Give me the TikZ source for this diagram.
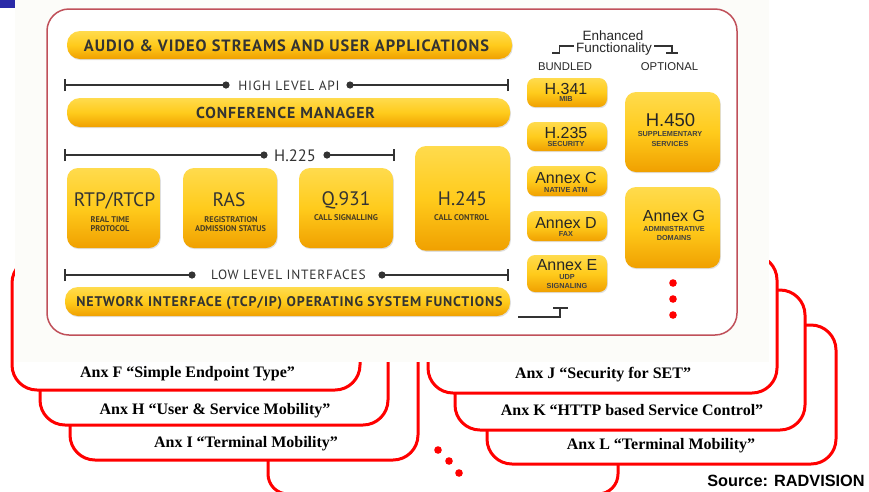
\documentclass[tikz,border=0pt]{standalone}
\usepackage{fontspec}
\setmainfont{Liberation Serif}
\newfontfamily\dsans{PT Sans}
\newfontfamily\dwide[LetterSpace=6]{PT Sans}
\newfontfamily\asans{Liberation Sans}
\usetikzlibrary{shadows}
\definecolor{ytop}{HTML}{FFDB4D}
\definecolor{ymid}{HTML}{FFCB1C}
\definecolor{ybot}{HTML}{F0A000}
\definecolor{txt}{HTML}{333333}
\definecolor{subtxt}{HTML}{4A3F22}
\definecolor{framec}{HTML}{C0505A}
\definecolor{coverc}{HTML}{FCFCF9}
\definecolor{navyc}{HTML}{2A2AA8}
\definecolor{cardred}{HTML}{FF0000}
\begin{document}
\begin{tikzpicture}[x=1pt,y=-1pt,
  card/.style={draw=cardred, line width=3pt, fill=white, rounded corners=25pt},
  cardlbl/.style={anchor=base, inner sep=0pt, font=\bfseries\fontsize{16}{18}\selectfont},
  ybox/.style={rounded corners=11pt, top color=ytop, bottom color=ybot, middle color=ymid,
     drop shadow={opacity=0.25, shadow xshift=0.8pt, shadow yshift=-1.2pt}},
  ybar/.style={ybox, rounded corners=13pt},
  bartxt/.style={anchor=base, inner sep=0pt, text=txt, font=\dwide\bfseries\fontsize{14.5}{16}\selectfont},
  apitxt/.style={anchor=base, inner sep=0pt, text=txt, font=\dwide\fontsize{13.4}{15}\selectfont},
  bigt/.style={anchor=base, inner sep=0pt, text=txt, font=\dsans\fontsize{19.5}{21}\selectfont},
  smallt/.style={anchor=base, inner sep=0pt, text=subtxt, font=\dsans\bfseries\fontsize{8.3}{9}\selectfont},
  rbig/.style={anchor=base, inner sep=0pt, text=black!85, font=\asans\fontsize{16}{18}\selectfont},
  rsmall/.style={anchor=base, inner sep=0pt, text=black!75, font=\asans\bfseries\fontsize{7.3}{8}\selectfont},
  rhead/.style={anchor=base, inner sep=0pt, text=black!85, font=\asans\fontsize{13.5}{15}\selectfont},
  rcol/.style={anchor=base, inner sep=0pt, text=black!85, font=\asans\fontsize{11.3}{13}\selectfont},
  rule/.style={draw=txt, line width=1.3pt},
  reddot/.style={fill=cardred}
]
\useasboundingbox (0,0) rectangle (869,491);
\begin{scope}
\clip (0,0) rectangle (869,491);
% ---------- stacked cards (back to front) ----------
\draw[card, rounded corners=20pt] (268,360) rectangle (618,494);
\draw[card] (487,325) rectangle (836,464);
\draw[card] (455,290) rectangle (805,430);
\draw[card] (428,255) rectangle (777,393);
\draw[card] (70,325) rectangle (418,460);
\draw[card] (40,290) rectangle (388,425);
\draw[card] (12,258) rectangle (360,390);
\node[cardlbl] (lblF) at (187.5,377) {Anx F “Simple Endpoint Type”};
\node[cardlbl] (lblH) at (215,414) {Anx H “User \& Service Mobility”};
\node[cardlbl] (lblI) at (246,447) {Anx I “Terminal Mobility”};
\node[cardlbl] (lblJ) at (603,378) {Anx J “Security for SET”};
\node[cardlbl] (lblK) at (632,415) {Anx K “HTTP based Service Control”};
\node[cardlbl] (lblL) at (661,449) {Anx L “Terminal Mobility”};
% ellipsis dots
\fill[reddot] (438,450) circle (3.8);
\fill[reddot] (449,461) circle (3.8);
\fill[reddot] (459,473) circle (3.8);
% ---------- screenshot cover ----------
\fill[coverc] (15,0) rectangle (769,362);
\fill[navyc] (0,0) rectangle (15,8);
% main frame
\draw[draw=framec, line width=1.5pt, rounded corners=22pt, fill=white] (47,9) rectangle (737,335);
% ---------- bars ----------
\path[ybar] (67,31) rectangle (512,59);
\node[bartxt, font=\dwide\bfseries\fontsize{16.4}{18}\selectfont] (audio) at (286.5,51.7) {AUDIO \& VIDEO STREAMS AND USER APPLICATIONS};
\path[ybar] (67,98) rectangle (510,127);
\node[bartxt, font=\dwide\bfseries\fontsize{15.8}{18}\selectfont] (conf) at (285.5,118.3) {CONFERENCE MANAGER};
\path[ybar] (65,287) rectangle (510,316);
\node[bartxt, font=\dwide\bfseries\fontsize{14}{16}\selectfont] (net) at (289.5,306.7) {NETWORK INTERFACE (TCP/IP) OPERATING SYSTEM FUNCTIONS};
% ---------- API rules ----------
\node[apitxt] (hl) at (289,90.7) {HIGH LEVEL API};
\coordinate (hlL) at (65,85); \coordinate (hlR) at (508,85);
\coordinate (hld1) at (226,85); \coordinate (hld2) at (350,85);
\draw[rule] (hlL) -- (hld1) (hld2) -- (hlR);
\draw[rule] ([yshift=-6]hlL) -- ([yshift=6]hlL) ([yshift=-6]hlR) -- ([yshift=6]hlR);
\fill[txt] (hld1) circle (3.6) (hld2) circle (3.6);

\node[anchor=base, inner sep=0pt, text=txt, font=\dsans\fontsize{16.5}{18}\selectfont] (h225) at (295,161.7) {H.225};
\coordinate (hcL) at (65,155); \coordinate (hcR) at (394,155);
\coordinate (hcd1) at (264,155); \coordinate (hcd2) at (327,155);
\draw[rule] (hcL) -- (hcd1) (hcd2) -- (hcR);
\draw[rule] ([yshift=-6]hcL) -- ([yshift=6]hcL) ([yshift=-6]hcR) -- ([yshift=6]hcR);
\fill[txt] (hcd1) circle (3.6) (hcd2) circle (3.6);

\node[apitxt] (ll) at (288.5,279.3) {LOW LEVEL INTERFACES};
\coordinate (llL) at (65,275); \coordinate (llR) at (508,275);
\coordinate (lld1) at (192,275); \coordinate (lld2) at (382,275);
\draw[rule] (llL) -- (lld1) (lld2) -- (llR);
\draw[rule] ([yshift=-6]llL) -- ([yshift=6]llL) ([yshift=-6]llR) -- ([yshift=6]llR);
\fill[txt] (lld1) circle (3.6) (lld2) circle (3.6);
% ---------- protocol boxes ----------
\path[ybox] (67,168) rectangle (160,248);
\node[bigt] (rtp) at (114.5,206.7) {RTP/RTCP};
\node[smallt] (rtp1) at (110,222) {REAL TIME};
\node[smallt] (rtp2) at (110,231) {PROTOCOL};
\path[ybox] (183,168) rectangle (277,248);
\node[bigt] (ras) at (229,206.7) {RAS};
\node[smallt] (ras1) at (231,222) {REGISTRATION};
\node[smallt] (ras2) at (230.5,231) {ADMISSION STATUS};
\path[ybox] (299,168) rectangle (393,248);
\node[bigt] (q931) at (346,205.7) {Q.931};
\node[smallt] (q9311) at (346,220.7) {CALL SIGNALLING};
\path[ybox] (415,146) rectangle (510,250.7);
\node[bigt] (h245) at (462.5,205.7) {H.245};
\node[smallt] (h2451) at (461.5,220.7) {CALL CONTROL};
% ---------- enhanced functionality ----------
\node[rhead] (enh) at (613,40) {Enhanced};
\node[rhead] (fun) at (614,52) {Functionality};
\node[rcol] (bund) at (565,70) {BUNDLED};
\node[rcol] (opt) at (669.5,70) {OPTIONAL};
\draw[rule] (552,53) -- (559.5,53) -- (559.5,46) -- (574,46);
\draw[rule] (654,46) -- (672,46) -- (672,53);
\draw[rule] (666,53) -- (678,53);
\draw[rule] (518,317) -- (560,317) -- (560,308);
\draw[rule] (553,308) -- (568,308);
% bundled
\path[ybox, rounded corners=8pt] (527,78) rectangle (607,107);
\node[rbig] (h341) at (566,94) {H.341};
\node[rsmall] (h341s) at (566,101.7) {MIB};
\path[ybox, rounded corners=8pt] (527,122) rectangle (607,151);
\node[rbig] (h235) at (566,138.3) {H.235};
\node[rsmall] (h235s) at (566,146.7) {SECURITY};
\path[ybox, rounded corners=8pt] (527,166) rectangle (607,196);
\node[rbig] (anc) at (566,183.3) {Annex C};
\node[rsmall] (ancs) at (566,192.7) {NATIVE ATM};
\path[ybox, rounded corners=8pt] (527,211) rectangle (607,241);
\node[rbig] (and) at (566,228.3) {Annex D};
\node[rsmall] (ands) at (566,236.7) {FAX};
\path[ybox, rounded corners=8pt] (527,255) rectangle (607,292);
\node[rbig] (ane) at (567,270) {Annex E};
\node[rsmall] (anes1) at (567,279) {UDP};
\node[rsmall] (anes2) at (567,288.3) {SIGNALING};
% optional
\path[ybox] (625,92) rectangle (720,172);
\node[rbig, font=\asans\fontsize{18.5}{20}\selectfont] (h450) at (670.5,126.7) {H.450};
\node[rsmall] (h450s1) at (670,136.7) {SUPPLEMENTARY};
\node[rsmall] (h450s2) at (670,146.7) {SERVICES};
\path[ybox] (625,187) rectangle (720,268);
\node[rbig] (ang) at (674,221.7) {Annex G};
\node[rsmall] (angs1) at (674,231.7) {ADMINISTRATIVE};
\node[rsmall] (angs2) at (674,240.7) {DOMAINS};
% vertical dots
\fill[reddot] (673,283) circle (3.8);
\fill[reddot] (673,299) circle (3.8);
\fill[reddot] (673,315) circle (3.8);
% source
\node[anchor=base, inner sep=0pt, font=\asans\bfseries\fontsize{16.3}{18}\selectfont] (src) at (786,486) {Source: RADVISION};
\end{scope}
\end{tikzpicture}
\end{document}
